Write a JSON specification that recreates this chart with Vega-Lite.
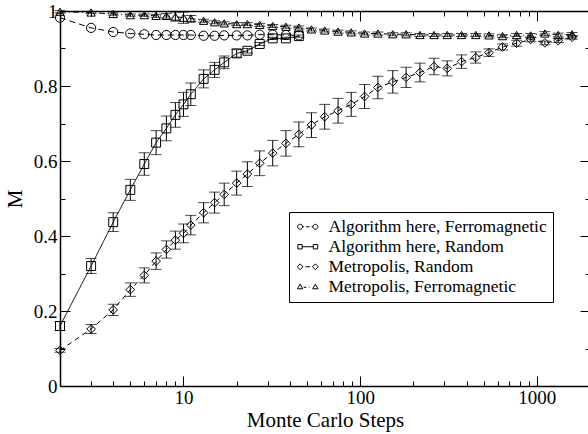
{
  "$schema": "https://vega.github.io/schema/vega-lite/v6.json",
  "width": 530,
  "height": 375,
  "autosize": "none",
  "padding": {"left": 60, "top": 11, "right": 0, "bottom": 48},
  "background": "white",
  "config": {"font": "Liberation Serif", "view": {"stroke": null}, "legend": {"labelFont": "Liberation Serif"}},
  "data": {"values": [
    {"s":"AF","x":2,"M":0.982,"e":0},{"s":"AF","x":3,"M":0.955,"e":0},{"s":"AF","x":4,"M":0.944,"e":0},{"s":"AF","x":5,"M":0.94,"e":0},{"s":"AF","x":6,"M":0.938,"e":0},{"s":"AF","x":7,"M":0.936,"e":0},{"s":"AF","x":8,"M":0.936,"e":0},{"s":"AF","x":9,"M":0.936,"e":0},{"s":"AF","x":10,"M":0.936,"e":0},{"s":"AF","x":11,"M":0.936,"e":0},{"s":"AF","x":13,"M":0.934,"e":0},{"s":"AF","x":15,"M":0.934,"e":0},{"s":"AF","x":17,"M":0.935,"e":0},{"s":"AF","x":20,"M":0.935,"e":0},{"s":"AF","x":23,"M":0.935,"e":0},{"s":"AF","x":27,"M":0.937,"e":0},{"s":"AF","x":32,"M":0.937,"e":0},{"s":"AF","x":38,"M":0.936,"e":0},{"s":"AF","x":45,"M":0.935,"e":0},
    {"s":"AR","x":2,"M":0.16,"e":0.012},{"s":"AR","x":3,"M":0.32,"e":0.02},{"s":"AR","x":4,"M":0.437,"e":0.025},{"s":"AR","x":5,"M":0.523,"e":0.028},{"s":"AR","x":6,"M":0.592,"e":0.03},{"s":"AR","x":7,"M":0.649,"e":0.032},{"s":"AR","x":8,"M":0.687,"e":0.033},{"s":"AR","x":9,"M":0.723,"e":0.033},{"s":"AR","x":10,"M":0.751,"e":0.032},{"s":"AR","x":11,"M":0.778,"e":0.03},{"s":"AR","x":13,"M":0.819,"e":0.024},{"s":"AR","x":15,"M":0.843,"e":0.02},{"s":"AR","x":17,"M":0.863,"e":0.017},{"s":"AR","x":20,"M":0.887,"e":0.01},{"s":"AR","x":23,"M":0.894,"e":0.006},{"s":"AR","x":27,"M":0.912,"e":0.004},{"s":"AR","x":32,"M":0.927,"e":0.003},{"s":"AR","x":38,"M":0.927,"e":0.003},{"s":"AR","x":45,"M":0.933,"e":0.003},
    {"s":"MR","x":2,"M":0.095,"e":0.005},{"s":"MR","x":3,"M":0.152,"e":0.012},{"s":"MR","x":4,"M":0.203,"e":0.015},{"s":"MR","x":5,"M":0.257,"e":0.018},{"s":"MR","x":6,"M":0.295,"e":0.02},{"s":"MR","x":7,"M":0.333,"e":0.022},{"s":"MR","x":8,"M":0.364,"e":0.023},{"s":"MR","x":9,"M":0.389,"e":0.024},{"s":"MR","x":10,"M":0.407,"e":0.025},{"s":"MR","x":11,"M":0.429,"e":0.026},{"s":"MR","x":13,"M":0.462,"e":0.027},{"s":"MR","x":15,"M":0.489,"e":0.028},{"s":"MR","x":17,"M":0.511,"e":0.03},{"s":"MR","x":20,"M":0.541,"e":0.032},{"s":"MR","x":23,"M":0.565,"e":0.033},{"s":"MR","x":27,"M":0.594,"e":0.033},{"s":"MR","x":32,"M":0.621,"e":0.034},{"s":"MR","x":38,"M":0.647,"e":0.034},{"s":"MR","x":45,"M":0.671,"e":0.033},{"s":"MR","x":53,"M":0.696,"e":0.033},{"s":"MR","x":63,"M":0.718,"e":0.033},{"s":"MR","x":75,"M":0.734,"e":0.033},{"s":"MR","x":89,"M":0.751,"e":0.032},{"s":"MR","x":106,"M":0.772,"e":0.032},{"s":"MR","x":126,"M":0.796,"e":0.03},{"s":"MR","x":153,"M":0.811,"e":0.03},{"s":"MR","x":182,"M":0.823,"e":0.027},{"s":"MR","x":218,"M":0.836,"e":0.025},{"s":"MR","x":262,"M":0.852,"e":0.022},{"s":"MR","x":311,"M":0.847,"e":0.02},{"s":"MR","x":375,"M":0.865,"e":0.018},{"s":"MR","x":451,"M":0.876,"e":0.015},{"s":"MR","x":536,"M":0.889,"e":0.01},{"s":"MR","x":640,"M":0.904,"e":0.008},{"s":"MR","x":769,"M":0.914,"e":0.008},{"s":"MR","x":923,"M":0.924,"e":0.006},{"s":"MR","x":1111,"M":0.915,"e":0.005},{"s":"MR","x":1322,"M":0.921,"e":0.005},{"s":"MR","x":1585,"M":0.93,"e":0.005},
    {"s":"MF","x":2,"M":0.998,"e":0.003},{"s":"MF","x":3,"M":0.996,"e":0.003},{"s":"MF","x":4,"M":0.992,"e":0.003},{"s":"MF","x":5,"M":0.989,"e":0.003},{"s":"MF","x":6,"M":0.989,"e":0.003},{"s":"MF","x":7,"M":0.987,"e":0.004},{"s":"MF","x":8,"M":0.987,"e":0.006},{"s":"MF","x":9,"M":0.985,"e":0.012},{"s":"MF","x":10,"M":0.982,"e":0.015},{"s":"MF","x":11,"M":0.98,"e":0.008},{"s":"MF","x":13,"M":0.974,"e":0.004},{"s":"MF","x":15,"M":0.97,"e":0.004},{"s":"MF","x":17,"M":0.967,"e":0.004},{"s":"MF","x":20,"M":0.965,"e":0.004},{"s":"MF","x":23,"M":0.965,"e":0.004},{"s":"MF","x":27,"M":0.963,"e":0.004},{"s":"MF","x":32,"M":0.96,"e":0.004},{"s":"MF","x":38,"M":0.958,"e":0.004},{"s":"MF","x":45,"M":0.956,"e":0.004},{"s":"MF","x":53,"M":0.951,"e":0.004},{"s":"MF","x":63,"M":0.948,"e":0.004},{"s":"MF","x":75,"M":0.945,"e":0.004},{"s":"MF","x":89,"M":0.943,"e":0.004},{"s":"MF","x":106,"M":0.94,"e":0.004},{"s":"MF","x":126,"M":0.94,"e":0.004},{"s":"MF","x":153,"M":0.938,"e":0.004},{"s":"MF","x":182,"M":0.938,"e":0.004},{"s":"MF","x":218,"M":0.936,"e":0.004},{"s":"MF","x":262,"M":0.936,"e":0.004},{"s":"MF","x":311,"M":0.936,"e":0.004},{"s":"MF","x":375,"M":0.936,"e":0.004},{"s":"MF","x":451,"M":0.936,"e":0.004},{"s":"MF","x":536,"M":0.935,"e":0.004},{"s":"MF","x":640,"M":0.933,"e":0.004},{"s":"MF","x":769,"M":0.936,"e":0.004},{"s":"MF","x":923,"M":0.935,"e":0.005},{"s":"MF","x":1111,"M":0.94,"e":0.005},{"s":"MF","x":1322,"M":0.936,"e":0.005},{"s":"MF","x":1585,"M":0.938,"e":0.005}
  ]},
  "resolve": {"scale": {"shape": "independent", "size": "independent"}, "axis": {"x": "independent", "y": "independent"}},
  "layer": [
    {
      "mark": {"type": "line", "color": "black", "strokeWidth": 1},
      "encoding": {
        "x": {"field": "x", "type": "quantitative",
          "scale": {"type": "log", "domain": [2, 2000], "nice": false},
          "axis": {"orient": "bottom", "title": "Monte Carlo Steps", "titleFontSize": 21, "titleFontWeight": "normal", "titleColor": "black", "titlePadding": -3,
            "values": [2,3,4,5,6,7,8,9,10,20,30,40,50,60,70,80,90,100,200,300,400,500,600,700,800,900,1000,2000],
            "labelExpr": "datum.value == 10 ? '10' : datum.value == 100 ? '100' : datum.value == 1000 ? '1000' : ''",
            "labelFontSize": 19, "labelColor": "black", "labelPadding": 12, "labelOverlap": false, "labelFlush": false,
            "tickSize": {"condition": {"test": "datum.value == 10 || datum.value == 100 || datum.value == 1000", "value": -10}, "value": -5},
            "tickColor": "black", "domainColor": "black", "domainWidth": 1.5, "grid": false}},
        "y": {"field": "M", "type": "quantitative",
          "scale": {"domain": [0, 1], "nice": false, "zero": false},
          "axis": {"orient": "left", "title": "M", "titleFontSize": 21, "titleFontWeight": "normal", "titleColor": "black", "titlePadding": 8,
            "values": [0,0.1,0.2,0.3,0.4,0.5,0.6,0.7,0.8,0.9,1],
            "labelExpr": "round(datum.value*10) % 2 == 0 ? format(datum.value, '~g') : ''",
            "labelFontSize": 19, "labelColor": "black", "labelPadding": 13, "labelOverlap": false, "labelFlush": false,
            "tickSize": {"condition": {"test": "round(datum.value*10) % 2 == 0", "value": -10}, "value": -5},
            "tickColor": "black", "domainColor": "black", "domainWidth": 1.5, "grid": false}},
        "strokeDash": {"field": "s", "type": "nominal",
          "scale": {"domain": ["AF","AR","MR","MF"], "range": [[6,4],[1,0],[5,4],[6,3,1,3]]}, "legend": null}
      }
    },
    {
      "transform": [{"filter": "datum.e > 0"}],
      "mark": {"type": "errorbar", "color": "black", "thickness": 1, "ticks": {"size": 11, "thickness": 1, "color": "black"}},
      "encoding": {
        "x": {"field": "x", "type": "quantitative", "axis": null},
        "y": {"field": "M", "type": "quantitative", "axis": null},
        "yError": {"field": "e"}
      }
    },
    {
      "mark": {"type": "point", "filled": false, "stroke": "black", "strokeWidth": 1, "opacity": 1},
      "encoding": {
        "x": {"field": "x", "type": "quantitative", "axis": null},
        "y": {"field": "M", "type": "quantitative", "axis": null},
        "shape": {"field": "s", "type": "nominal", "scale": {"domain": ["AF","AR","MR","MF"], "range": ["circle","square","diamond","triangle-up"]}, "legend": null},
        "size": {"field": "s", "type": "nominal", "scale": {"domain": ["AF","AR","MR","MF"], "range": [85,70,150,85]}, "legend": null}
      }
    },
    {
      "mark": {"type": "point", "opacity": 0},
      "encoding": {
        "x": {"field": "x", "type": "quantitative",
          "axis": {"orient": "top", "title": null, "labels": false,
            "values": [2,3,4,5,6,7,8,9,10,20,30,40,50,60,70,80,90,100,200,300,400,500,600,700,800,900,1000,2000],
            "tickSize": {"condition": {"test": "datum.value == 10 || datum.value == 100 || datum.value == 1000", "value": -10}, "value": -5},
            "tickColor": "black", "domainColor": "black", "domainWidth": 1.5, "grid": false}},
        "y": {"field": "M", "type": "quantitative",
          "axis": {"orient": "right", "title": null, "labels": false,
            "values": [0,0.1,0.2,0.3,0.4,0.5,0.6,0.7,0.8,0.9,1],
            "tickSize": {"condition": {"test": "round(datum.value*10) % 2 == 0", "value": -10}, "value": -5},
            "tickColor": "black", "domainColor": "black", "domainWidth": 1.5, "grid": false}}
      }
    },
    {
      "mark": {"type": "point", "filled": false, "opacity": 0, "stroke": "black"},
      "encoding": {
        "x": {"field": "x", "type": "quantitative", "axis": null},
        "y": {"field": "M", "type": "quantitative", "axis": null},
        "shape": {"field": "s", "type": "nominal",
          "scale": {"domain": ["AF","AR","MR","MF"], "range": [
            "M-1.28,0A0.62,0.62 0 1,1 -2.52,0A0.62,0.62 0 1,1 -1.28,0M2.52,0A0.62,0.62 0 1,1 1.28,0A0.62,0.62 0 1,1 2.52,0M-1.28,0L-0.95,0M-0.44,0L0.44,0M0.95,0L1.28,0",
            "M-2.48,-0.55L-1.39,-0.55L-1.39,0.55L-2.48,0.55ZM1.39,-0.55L2.48,-0.55L2.48,0.55L1.39,0.55ZM-1.39,0L1.39,0",
            "M-2.63,0L-1.9,-0.73L-1.17,0L-1.9,0.73ZM1.17,0L1.9,-0.73L2.63,0L1.9,0.73ZM-0.58,0L0.58,0",
            "M-1.9,-0.66L-1.24,0.51L-2.56,0.51ZM1.9,-0.66L2.56,0.51L1.24,0.51ZM-1.02,0.15L-0.37,0.15M0.29,0.15L0.44,0.15"]},
          "legend": {"orient": "none", "legendX": 229, "legendY": 201, "title": null,
            "strokeColor": "black", "fillColor": "white", "padding": 6, "cornerRadius": 0,
            "symbolSize": 64, "symbolOpacity": 1, "symbolStrokeColor": "black", "symbolFillColor": "transparent", "symbolStrokeWidth": 1,
            "symbolOffset": 4, "labelOffset": 12, "rowPadding": 1,
            "labelFont": "Liberation Serif", "labelFontSize": 17.5, "labelColor": "black", "labelLimit": 400,
            "labelExpr": "datum.label == 'AF' ? 'Algorithm here, Ferromagnetic' : datum.label == 'AR' ? 'Algorithm here, Random' : datum.label == 'MR' ? 'Metropolis, Random' : 'Metropolis, Ferromagnetic'"}}
      }
    }
  ]
}
